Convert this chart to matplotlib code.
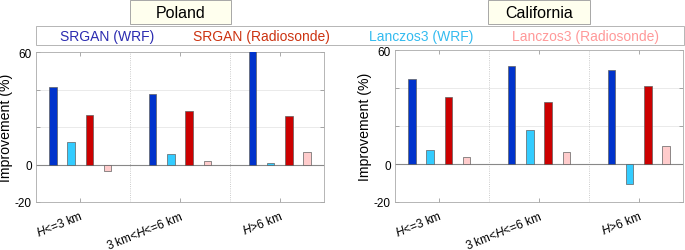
import matplotlib
matplotlib.use('Agg')
from matplotlib import pyplot as plt
from matplotlib.patches import Rectangle
import matplotlib.transforms as mtransforms
import numpy as np

plt.rcParams['font.family'] = ['Liberation Sans', 'DejaVu Sans']
plt.rcParams['mathtext.fontset'] = 'custom'
plt.rcParams['mathtext.rm'] = 'Liberation Sans'
plt.rcParams['mathtext.it'] = 'Liberation Sans:italic'

# 数据
categories = [r'$H$<=3 km', r'3 km<$H$<=6 km', r'$H$>6 km']
series = ['SRGAN (WRF)', 'SRGAN (Radiosonde)', 'Lanczos3 (WRF)', 'Lanczos3 (Radiosonde)']
regions = ['Poland', 'California']

poland_srgan_wrf = [41.4, 37.4, 63.0]
poland_lanczos_wrf = [12.1, 5.6, 0.7]
poland_srgan_radio = [26.5, 28.6, 26.0]
poland_lanczos_radio = [-3.5, 1.9, 6.8]

cal_srgan_wrf = [45.0, 51.6, 49.4]
cal_lanczos_wrf = [7.5, 18.1, -10.4]
cal_srgan_radio = [35.2, 32.6, 41.0]
cal_lanczos_radio = [3.8, 6.3, 9.6]

yticks = [-20, 0, 20, 40, 60]
ytick_labels = ['-20', '0', '', '', '60']

bar_colors = ['#0033CC', '#33CCFF', '#CC0000', '#FFCCCC']
text_colors = ['#2B2BB0', '#CC3311', '#33BBF0', '#FF9999']
# 图中的柱子顺序: SRGAN(WRF), Lanczos3(WRF), SRGAN(Radiosonde), Lanczos3(Radiosonde)
offsets = [-0.275, -0.092, 0.092, 0.275]

fig = plt.figure(figsize=(6.85, 2.51), dpi=100)
ax1 = fig.add_axes([36 / 685, 48 / 251, 288 / 685, 150 / 251])
ax2 = fig.add_axes([395 / 685, 48 / 251, 288 / 685, 152 / 251])

data = {
    'Poland': [poland_srgan_wrf, poland_lanczos_wrf, poland_srgan_radio, poland_lanczos_radio],
    'California': [cal_srgan_wrf, cal_lanczos_wrf, cal_srgan_radio, cal_lanczos_radio],
}
bar_names = [series[0], series[2], series[1], series[3]]

x = np.arange(1, len(categories) + 1)
handles = {}
for ax, region in zip([ax1, ax2], regions):
    for i, vals in enumerate(data[region]):
        b = ax.bar(x + offsets[i], vals, width=0.075, color=bar_colors[i],
                   edgecolor='#606060', linewidth=0.5, zorder=3)
        handles[bar_names[i]] = b
    ax.set_xlim(0.555, 3.445)
    ax.set_ylim(-19, 60)
    ax.set_yticks(yticks)
    ax.set_yticklabels(ytick_labels, fontsize=8.5)
    ax.set_xticks(x)
    ax.set_xticklabels(categories, fontsize=8.5, rotation=22, ha='right',
                       rotation_mode='anchor')
    offset = mtransforms.ScaledTranslation(6 / 100, 0, fig.dpi_scale_trans)
    for lab in ax.get_xticklabels():
        lab.set_transform(lab.get_transform() + offset)
    ax.tick_params(axis='both', direction='in', length=3, width=0.5,
                   color='#888888', top=True, right=True, pad=3)
    ax.tick_params(axis='x', pad=5)
    for y in [20, 40]:
        ax.axhline(y, color='#E6E6E6', linewidth=0.6, zorder=1)
    ax.axhline(0, color='#888888', linewidth=0.8, zorder=2)
    for xs in [1.5, 2.5]:
        ax.axvline(xs, color='#BBBBBB', linewidth=0.6, linestyle=':', zorder=1)
    for s in ax.spines.values():
        s.set_color('#AAAAAA')
        s.set_linewidth(0.6)
    ax.set_ylabel('Improvement (%)', fontsize=10.2)
    ax.yaxis.set_label_coords(-0.08, 0.5)

# 标题框
for x0, x1, name in [(130, 231, 'Poland'), (488, 590, 'California')]:
    fig.patches.append(Rectangle((x0 / 685, 1 - 25 / 251), (x1 - x0) / 685, 24 / 251,
                                 transform=fig.transFigure, facecolor='#FFFFEE',
                                 edgecolor='#999999', linewidth=0.6))
    fig.text((x0 + x1) / 2 / 685, 1 - 13.5 / 251, name, ha='center', va='center',
             fontsize=11.5, color='black')

# 图例框
fig.patches.append(Rectangle((36 / 685, 1 - 46 / 251), 648 / 685, 19 / 251,
                             transform=fig.transFigure, facecolor='white',
                             edgecolor='#AAAAAA', linewidth=0.6))
leg = fig.legend([handles[s] for s in series], series, loc='center',
                 bbox_to_anchor=(359.5 / 685, 1 - 37 / 251), ncol=4,
                 frameon=False, handlelength=0, handletextpad=0,
                 columnspacing=2.8, fontsize=10, labelcolor=text_colors)
for h in leg.legend_handles:
    h.set_visible(False)

plt.savefig('out.png', dpi=100)
